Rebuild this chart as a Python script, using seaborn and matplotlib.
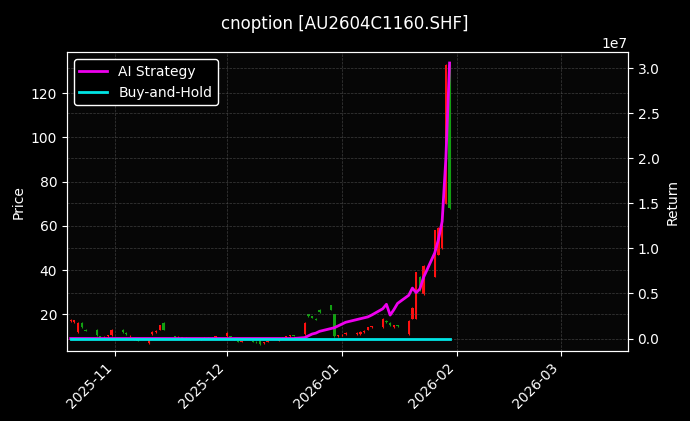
import pandas as pd
import numpy as np
import matplotlib
matplotlib.use("Agg")
import matplotlib.pyplot as plt
import matplotlib.dates as mdates
import seaborn as sns

dates = pd.bdate_range("2025-10-20", "2026-01-30")

opens = [17, 16.5, 12, 16, 13,
         13, 10, 9.5, 10, 10.5,
         13, 11.5, 10, 9, 8.5,
         7, 11, 12, 13, 16,
         10, 9.5, 9.5, 9, 9,
         8.8, 9, 9.2, 9, 9.5,
         10, 10, 9, 8, 7.5,
         7.8, 7.5, 8, 7, 7.5,
         8, 9, 9.5, 10, 10.5,
         11, 20, 19, 18, 22,
         24, 20, 10, 10.5, 11,
         11, 11, 12, 13, 14,
         14, 17, 16, 14, 15,
         11, 18, 18, 37, 29,
         37, 47, 50, 70, 133]
closes = [17.5, 17.3, 16, 14, 12.5,
          10.5, 9, 9.8, 10.5, 13,
          12, 11, 10.2, 8.5, 8,
          9, 12, 12.5, 15, 13,
          9.5, 9.7, 9.3, 9.2, 8.8,
          9, 9.3, 9, 9.4, 10,
          11.5, 9.5, 8.8, 7.5, 7.8,
          7.5, 7.2, 6.5, 7.2, 7.8,
          8.5, 9.2, 10, 10.5, 10.3,
          16, 19, 18.5, 17.5, 21,
          22, 10, 10.5, 10.8, 11.5,
          11.5, 12, 12.5, 14, 14.5,
          18, 16.5, 15, 15, 14.5,
          17, 23, 39, 31, 42,
          58, 59, 61, 133, 68]

ai_strategy = [0.0] * 45 + [
    0.01, 0.03, 0.05, 0.06, 0.08,
    0.11, 0.12, 0.14, 0.16, 0.18,
    0.21, 0.22, 0.23, 0.24, 0.26,
    0.33, 0.38, 0.26, 0.32, 0.39,
    0.48, 0.56, 0.51, 0.55, 0.68,
    0.95, 1.1, 1.3, 2.0, 3.06]
buy_hold = [0.0] * 75

df = pd.DataFrame({"date": dates, "open": opens, "close": closes,
                   "ai": np.array(ai_strategy) * 1e7,
                   "bh": np.array(buy_hold) * 1e7})

plt.style.use("dark_background")
fig = plt.figure(figsize=(6.9, 4.21), dpi=100, facecolor="black")
ax = fig.add_axes([0.097, 0.166, 0.813, 0.71])
ax.set_facecolor("#060606")

# candles
up = df["close"] >= df["open"]
colors = np.where(up, "#ff1010", "#12a012")
lo = df[["open", "close"]].min(axis=1)
hi = df[["open", "close"]].max(axis=1)
ax.bar(df["date"], hi - lo, bottom=lo, width=0.6, color=colors, linewidth=0)
ax.vlines(df["date"], lo - 0.3, hi + 0.3, colors=colors, linewidth=0.8)
ax.set_ylim(3.3, 138.6)
ax.set_ylabel("Price")
ax.grid(True, color="#555555", linestyle="--", linewidth=0.5, alpha=0.7)

ax2 = ax.twinx()
sns.lineplot(data=df, x="date", y="ai", ax=ax2, color="#ee00ee", linewidth=2, label="AI Strategy")
sns.lineplot(data=df, x="date", y="bh", ax=ax2, color="#00e5e5", linewidth=2, label="Buy-and-Hold")
ax2.set_ylim(-0.14e7, 3.18e7)
ax2.set_ylabel("Return")
ax2.grid(True, color="#555555", linestyle="--", linewidth=0.5, alpha=0.7)
ax2.legend(loc="upper left", facecolor="black", edgecolor="white", framealpha=1)

ax.set_xlim(pd.Timestamp("2025-10-19"), pd.Timestamp("2026-03-19"))
ax.xaxis.set_major_locator(mdates.MonthLocator())
ax.xaxis.set_major_formatter(mdates.DateFormatter("%Y-%m"))
ax2.set_xlabel("")
for lbl in ax.get_xticklabels():
    lbl.set_rotation(45)
    lbl.set_ha("right")

fig.suptitle("cnoption [AU2604C1160.SHF]", y=0.965)
fig.savefig("out.png", dpi=100, facecolor="black")
